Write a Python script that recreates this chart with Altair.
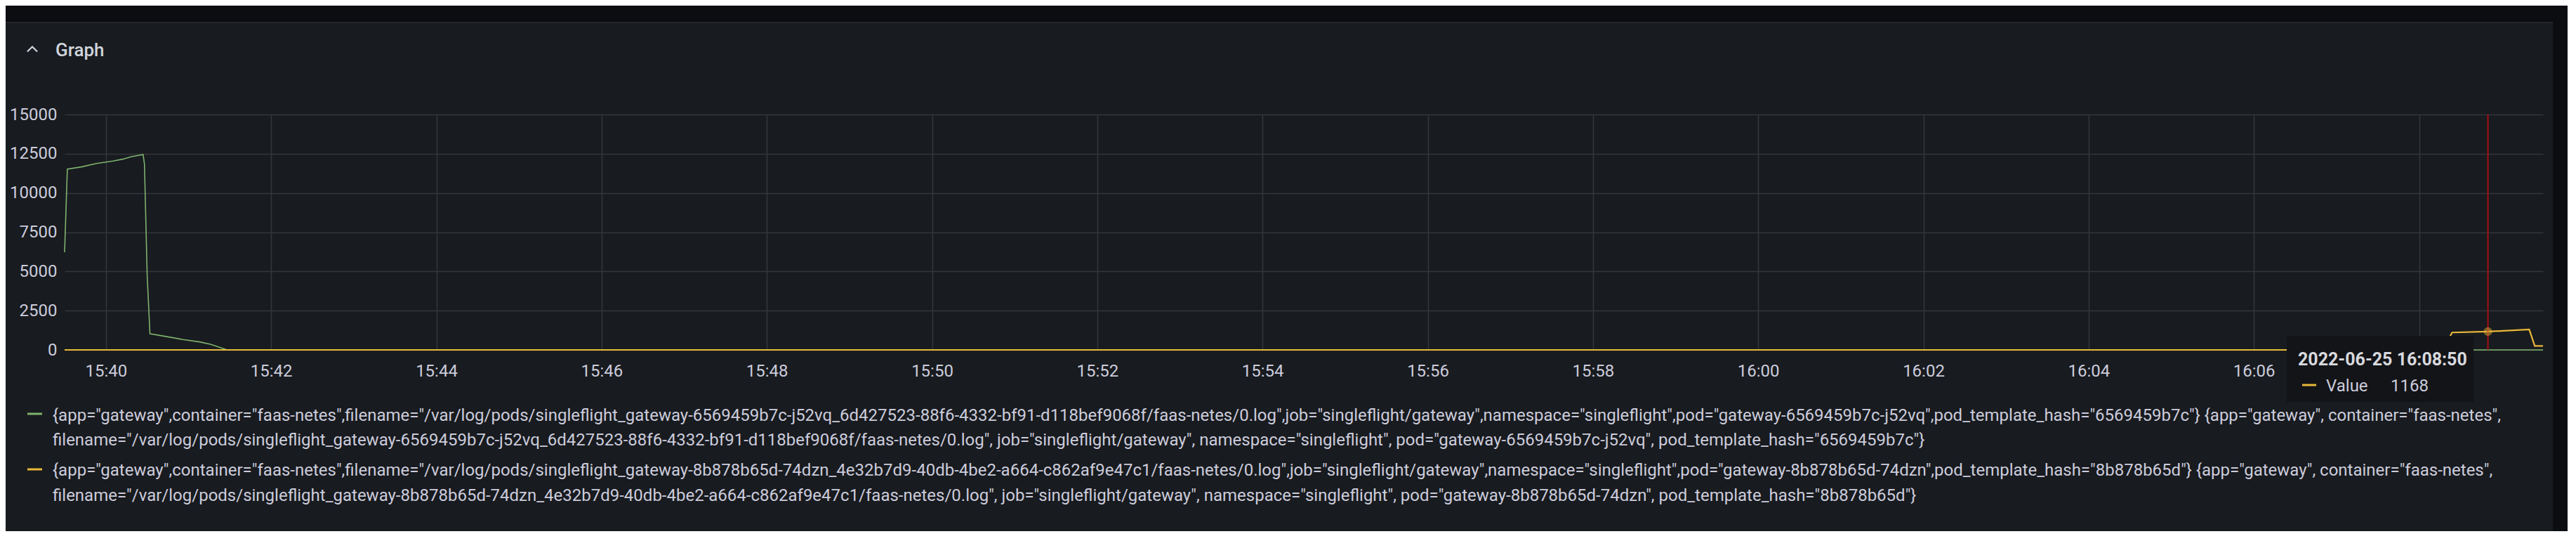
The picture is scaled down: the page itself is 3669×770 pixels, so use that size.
import altair as alt
import pandas as pd

DAY = "2022-06-25"

# ---- data ----
green_time = ["15:39:30", "15:39:32", "15:39:42", "15:39:53", "15:40:05", "15:40:12",
              "15:40:18", "15:40:27", "15:40:28", "15:40:30", "15:40:32", "15:40:42",
              "15:40:56", "15:41:08", "15:41:16", "15:41:28", "16:09:30"]
green_value = [6220, 11520, 11660, 11880, 12030, 12150,
               12300, 12450, 11850, 4690, 1030, 880,
               660, 510, 360, 0, 0]

yellow_time = ["15:39:30", "16:08:17", "16:08:24", "16:08:50", "16:09:20", "16:09:24", "16:09:30"]
yellow_value = [0, 0, 1110, 1168, 1300, 255, 250]

y_ticks = [0, 2500, 5000, 7500, 10000, 12500, 15000]
x_tick_times = ["15:40", "15:42", "15:44", "15:46", "15:48", "15:50", "15:52", "15:54",
                "15:56", "15:58", "16:00", "16:02", "16:04", "16:06", "16:08"]
x_hidden_label = "16:08"   # covered by the hover tooltip in the reference
x_domain = ["15:39:30", "16:09:30"]

hover_time = "16:08:50"
hover_value = 1168
tooltip_title = "2022-06-25 16:08:50"
tooltip_label = "Value"

panel_title = "Graph"
series_colors = ["#7EB26D", "#EAB839"]
legend_lines = [
    '{app="gateway",container="faas-netes",filename="/var/log/pods/singleflight_gateway-6569459b7c-j52vq_6d427523-88f6-4332-bf91-d118bef9068f/faas-netes/0.log",job="singleflight/gateway",namespace="singleflight",pod="gateway-6569459b7c-j52vq",pod_template_hash="6569459b7c"} {app="gateway", container="faas-netes",',
    'filename="/var/log/pods/singleflight_gateway-6569459b7c-j52vq_6d427523-88f6-4332-bf91-d118bef9068f/faas-netes/0.log", job="singleflight/gateway", namespace="singleflight", pod="gateway-6569459b7c-j52vq", pod_template_hash="6569459b7c"}',
    '{app="gateway",container="faas-netes",filename="/var/log/pods/singleflight_gateway-8b878b65d-74dzn_4e32b7d9-40db-4be2-a664-c862af9e47c1/faas-netes/0.log",job="singleflight/gateway",namespace="singleflight",pod="gateway-8b878b65d-74dzn",pod_template_hash="8b878b65d"} {app="gateway", container="faas-netes",',
    'filename="/var/log/pods/singleflight_gateway-8b878b65d-74dzn_4e32b7d9-40db-4be2-a664-c862af9e47c1/faas-netes/0.log", job="singleflight/gateway", namespace="singleflight", pod="gateway-8b878b65d-74dzn", pod_template_hash="8b878b65d"}',
]

# ---- styling ----
FONT = "Roboto"
TEXT = "#ccccdc"
GRID = "#34373c"
PANEL = "#181b1f"
OUTER = "#0c0d10"
W, H = 3530, 335


def iso(t):
    return f"{DAY}T{t}" if t.count(":") == 2 else f"{DAY}T{t}:00"


def dt(t):
    parts = [int(p) for p in t.split(":")]
    while len(parts) < 3:
        parts.append(0)
    return alt.DateTime(year=2022, month=6, date=25, hours=parts[0], minutes=parts[1], seconds=parts[2])


green_df = pd.DataFrame({"t": [iso(t) for t in green_time], "v": green_value})
yellow_df = pd.DataFrame({"t": [iso(t) for t in yellow_time], "v": yellow_value})
hover_df = pd.DataFrame({"t": [iso(hover_time)], "v": [hover_value]})
one = pd.DataFrame({"k": [0]})

x_scale = alt.Scale(domain=[dt(x_domain[0]), dt(x_domain[1])], nice=False)
y_scale = alt.Scale(domain=[0, 15000], nice=False)

x_axis = alt.Axis(values=[dt(t) for t in x_tick_times], format="%H:%M", title=None,
                  labelExpr=f"datum.label == '{x_hidden_label}' ? '' : datum.label",
                  labelFont=FONT, labelFontSize=24, labelColor=TEXT, labelPadding=18,
                  ticks=False, domain=False, grid=True, gridColor=GRID, gridWidth=1.5,
                  labelFlush=False, labelOverlap=False)
y_axis = alt.Axis(values=y_ticks, format="d", title=None, labelFont=FONT, labelFontSize=24,
                  labelColor=TEXT, labelPadding=11, ticks=False, domain=False,
                  grid=True, gridColor=GRID, gridWidth=1.5, labelOverlap=False)

X = alt.X("t:T", scale=x_scale, axis=x_axis)
Y = alt.Y("v:Q", scale=y_scale, axis=y_axis)


def rect(x0, x1, y0, y1, fill, **kw):
    return alt.Chart(one).mark_rect(fill=fill, **kw).encode(
        x=alt.value(x0), x2=alt.value(x1), y=alt.value(y0), y2=alt.value(y1))


def text(s, x, y, size=24, weight="normal", color=TEXT, baseline="alphabetic", align="left"):
    return alt.Chart(one).mark_text(text=s, font=FONT, fontSize=size, fontWeight=weight,
                                    color=color, align=align, baseline=baseline).encode(
        x=alt.value(x), y=alt.value(y))


def hline(x0, x1, y, color, width):
    return alt.Chart(one).mark_rule(color=color, strokeWidth=width).encode(
        x=alt.value(x0), x2=alt.value(x1), y=alt.value(y))


layers = []
# series (first, so the axes come from here)
layers.append(alt.Chart(green_df).mark_line(color=series_colors[0], strokeWidth=1.6).encode(x=X, y=Y))
layers.append(alt.Chart(yellow_df).mark_line(color=series_colors[1], strokeWidth=2.2).encode(x=X, y=Y))

# hover line + point
layers.append(alt.Chart(hover_df).mark_rule(color="#a50f15", strokeWidth=2).encode(
    x=X, y=alt.value(0), y2=alt.value(H)))
layers.append(alt.Chart(hover_df).mark_point(shape="circle", size=110, filled=True,
                                             color=series_colors[1], opacity=0.45,
                                             stroke=series_colors[1], strokeWidth=2).encode(x=X, y=Y))

# outer frame around the panel
layers.append(rect(-100, W + 200, -200, -131, OUTER))
layers.append(rect(3544, W + 200, -200, 700, OUTER))
layers.append(rect(-100, W + 200, 595, 700, OUTER))
layers.append(hline(-100, 3544, -131, "#24262b", 2))

# tooltip
layers.append(rect(3165, 3431, 315, 409, "#131417"))
layers.append(text(tooltip_title, 3181, 357, size=25, weight="bold", color="#d8d9de"))
layers.append(hline(3187, 3207, 385, series_colors[1], 3))
layers.append(text(tooltip_label, 3221, 393.5, size=24))
layers.append(text(str(hover_value), 3313, 393.5, size=24))

# legend
layers.append(hline(-53, -32, 426, series_colors[0], 3))
layers.append(hline(-53, -32, 505, series_colors[1], 3))
for s, yy in zip(legend_lines, [429, 464, 507, 543]):
    layers.append(text(s, -17, yy, size=24, baseline="middle"))

# panel header
layers.append(text(panel_title, -13, -83, size=26, weight=500, color="#d0d4dc"))
layers.append(alt.Chart(one).mark_point(shape="M-1,0.5L0,-0.5L1,0.5", size=200, filled=False,
                                        color="#d0d4dc", strokeWidth=2.2, opacity=1).encode(
    x=alt.value(-46), y=alt.value(-93)))

chart = alt.layer(*layers).properties(
    width=W, height=H,
    padding={"left": 84, "top": 155, "right": 35, "bottom": 258},
    autosize=alt.AutoSizeParams(type="none"),
    background=PANEL,
).configure(font=FONT).configure_view(stroke=None)

chart.save("out.html", embed_options={"renderer": "svg", "actions": False})
